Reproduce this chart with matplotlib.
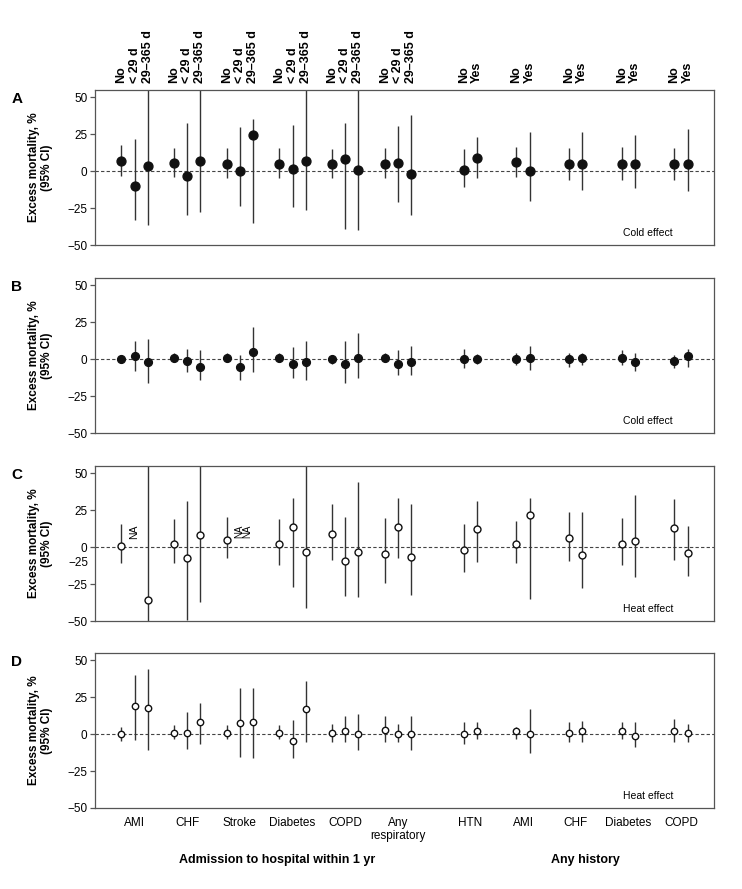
import matplotlib
matplotlib.use("Agg")
import matplotlib.pyplot as plt
import matplotlib.transforms as mtransforms
import numpy as np

plt.rcParams["font.family"] = ["Liberation Sans", "DejaVu Sans"]

nan = np.nan

# categories
adm_groups = ["AMI", "CHF", "Stroke", "Diabetes", "COPD", "Any\nrespiratory"]
adm_levels = ["No", "< 29 d", "29\u2013365 d"]
hist_groups = ["HTN", "AMI", "CHF", "Diabetes", "COPD"]
hist_levels = ["No", "Yes"]

# excess mortality (%), estimate and 95% CI; order = admission groups x levels, then history groups x levels
est_a = [7.0, -9.8, 3.2, 5.7, -3.2, 6.8, 5.0, 0.0, 24.5, 5.0, 1.8, 6.8, 5.0, 8.0, 1.1, 5.0, 5.7, -1.8,
         1.1, 8.9, 5.9, 0.0, 5.0, 5.0, 5.0, 5.0, 5.0, 5.0]
lo_a = [-3.0, -33.4, -36.4, -3.9, -29.5, -27.7, -4.8, -23.4, -35.2, -4.8, -24.5, -26.0, -4.8, -39.0, -40.0, -4.8, -20.7, -30.0,
        -10.5, -4.8, -3.6, -20.5, -5.7, -12.5, -5.7, -11.6, -5.7, -13.6]
hi_a = [17.5, 21.6, 70.0, 15.7, 32.5, 70.0, 15.7, 29.8, 35.5, 15.7, 31.4, 70.0, 14.8, 32.5, 70.0, 15.7, 30.7, 38.4,
        14.8, 23.4, 16.6, 26.6, 15.7, 26.6, 16.6, 24.5, 15.7, 28.4]

est_b = [0.0, 2.0, -2.0, 1.0, -1.0, -5.0, 1.0, -5.5, 5.0, 1.0, -3.0, -2.0, 0.0, -3.0, 1.0, 1.0, -3.0, -2.0,
         0.0, 0.0, 0.0, 1.0, 0.0, 1.0, 1.0, -2.0, -1.0, 2.0]
lo_b = [-2.5, -8.0, -16.0, -2.0, -9.0, -14.0, -2.0, -14.0, -9.0, -2.0, -13.0, -14.0, -3.0, -16.0, -13.0, -2.0, -11.0, -11.0,
        -6.0, -3.5, -4.0, -7.0, -5.0, -4.0, -4.0, -8.0, -6.0, -5.0]
hi_b = [2.5, 12.5, 14.0, 4.0, 7.0, 6.0, 4.0, 3.0, 22.0, 4.0, 8.0, 12.5, 3.0, 12.0, 18.0, 4.0, 6.0, 9.0,
        7.0, 3.5, 4.0, 9.0, 4.0, 4.0, 6.0, 4.0, 3.0, 7.0]

est_c = [1.0, nan, -35.5, 2.0, -7.6, 8.0, 5.0, nan, nan, 2.0, 14.0, -3.0, 9.0, -9.6, -3.0, -4.7, 14.0, -6.7,
         -2.0, 12.0, 2.0, 22.0, 6.0, -5.6, 2.0, 4.0, 13.0, -3.8]
lo_c = [-11.0, nan, -70.0, -11.0, -49.0, -37.0, -7.6, nan, nan, -12.0, -27.0, -41.0, -8.5, -33.0, -34.0, -24.0, -7.0, -32.6,
        -17.0, -10.0, -11.0, -35.0, -9.4, -27.7, -12.3, -20.0, -8.5, -19.2]
hi_c = [16.0, nan, 70.0, 19.0, 31.5, 70.0, 20.6, nan, nan, 19.0, 33.0, 70.0, 29.0, 20.6, 44.0, 19.7, 33.0, 29.4,
        16.0, 31.5, 18.0, 33.6, 23.6, 23.6, 19.7, 35.6, 32.4, 14.6]

est_d = [0.0, 19.0, 18.0, 1.0, 1.0, 8.5, 1.0, 7.5, 8.5, 1.0, -4.7, 17.0, 1.0, 2.0, 0.0, 3.0, 0.0, 0.0,
         0.0, 2.0, 2.0, 0.0, 1.0, 2.0, 2.0, -1.0, 2.0, 1.0]
lo_d = [-4.5, -4.0, -10.5, -3.0, -10.0, -6.7, -3.0, -15.3, -16.2, -3.0, -16.0, -5.0, -5.0, -5.5, -11.0, -5.0, -5.0, -10.5,
        -6.5, -3.5, -3.0, -13.0, -5.0, -5.0, -3.0, -8.5, -5.5, -5.0]
hi_d = [5.0, 40.0, 44.0, 6.0, 14.8, 21.0, 6.0, 31.5, 31.5, 6.0, 9.7, 36.0, 7.0, 12.0, 14.0, 12.0, 7.0, 12.0,
        8.0, 8.0, 5.0, 17.0, 8.0, 9.0, 8.0, 8.0, 10.0, 7.0]

panels = [
    ("A", est_a, lo_a, hi_a, "Cold effect", True, 6.4),
    ("B", est_b, lo_b, hi_b, "Cold effect", True, 5.6),
    ("C", est_c, lo_c, hi_c, "Heat effect", False, 5.0),
    ("D", est_d, lo_d, hi_d, "Heat effect", False, 4.6),
]

# x positions: groups of 3 (gap of one slot), then a wider gap before the history groups
adm_start = np.arange(len(adm_groups)) * 4
hist_start = 26 + np.arange(len(hist_groups)) * 4
x_pos = np.concatenate([np.concatenate([g + np.arange(3) for g in adm_start]),
                        np.concatenate([g + np.arange(2) for g in hist_start])])
x_labels = adm_levels * len(adm_groups) + hist_levels * len(hist_groups)

fig = plt.figure(figsize=(7.42, 8.89), dpi=100)
W, H = 742, 889
left, right = 95, 714
tops = [90, 278, 466, 653]
ph = 155
frame_col = "#555555"
line_col = "#333333"

axes = []
for (letter, est, lo, hi, effect, filled, ms), top in zip(panels, tops):
    ax = fig.add_axes([left / W, 1 - (top + ph) / H, (right - left) / W, ph / H])
    axes.append(ax)
    ax.set_xlim(-2, 45)
    ax.set_ylim(-50, 55)
    ax.axhline(0, color="#444444", lw=0.8, ls=(0, (3, 2)), zorder=1)
    ax.vlines(x_pos, lo, hi, color=line_col, lw=1.0, zorder=2)
    ax.plot(x_pos, est, "o", ms=ms, mfc="#111111" if filled else "white",
            mec="#111111", mew=1.0, zorder=3)

    ax.set_yticks([50, 25, 0, -25, -50])
    ax.set_xticks([])
    ax.tick_params(axis="y", length=3.5, width=0.9, color=frame_col, labelsize=8.5, pad=2)
    for sp in ax.spines.values():
        sp.set_color(frame_col)
        sp.set_linewidth(0.9)

    ax.set_ylabel("Excess mortality, %\n(95% CI)", fontsize=8.5, fontweight="bold", linespacing=1.1)
    ax.yaxis.set_label_coords(-0.068, 0.5)
    ax.text(0.893, 0.075, effect, transform=ax.transAxes, ha="center", va="center", fontsize=7.5)
    fig.text(17 / W, 1 - (top + 9) / H, letter, ha="center", va="center", fontsize=11, fontweight="bold")

# top category labels on panel A
ax_a = axes[0]
trans_a = mtransforms.blended_transform_factory(ax_a.transData, ax_a.transAxes)
for x, lab in zip(x_pos, x_labels):
    ax_a.text(x, 1.045, lab, transform=trans_a, rotation=90, ha="center", va="bottom",
              fontsize=9, fontweight="bold")

# NA markers and stray axis label in panel C
ax_c = axes[2]
ax_c.text(1, 10.5, "NA", rotation=90, ha="center", va="center", fontsize=7.5)
ax_c.text(9.25, 10.5, "NA\nNA", rotation=90, ha="center", va="center", fontsize=7, linespacing=0.85)
trans_c = mtransforms.blended_transform_factory(ax_c.transAxes, ax_c.transData)
ax_c.text(-0.011, -11, "\u221225", transform=trans_c, ha="right", va="center", fontsize=8.5)

# group labels under panel D
ax_d = axes[3]
trans_d = mtransforms.blended_transform_factory(ax_d.transData, ax_d.transAxes)
for g, lab in zip(adm_start, adm_groups):
    ax_d.text(g + 1, -0.055, lab, transform=trans_d, ha="center", va="top", fontsize=8.5, linespacing=1.2)
for g, lab in zip(hist_start, hist_groups):
    ax_d.text(g + 0.5, -0.055, lab, transform=trans_d, ha="center", va="top", fontsize=8.5)

fig.text(277 / W, 1 - 860 / H, "Admission to hospital within 1 yr", ha="center", va="center",
         fontsize=9, fontweight="bold")
fig.text(585 / W, 1 - 860 / H, "Any history", ha="center", va="center", fontsize=9, fontweight="bold")

fig.savefig("out.png", dpi=100)
